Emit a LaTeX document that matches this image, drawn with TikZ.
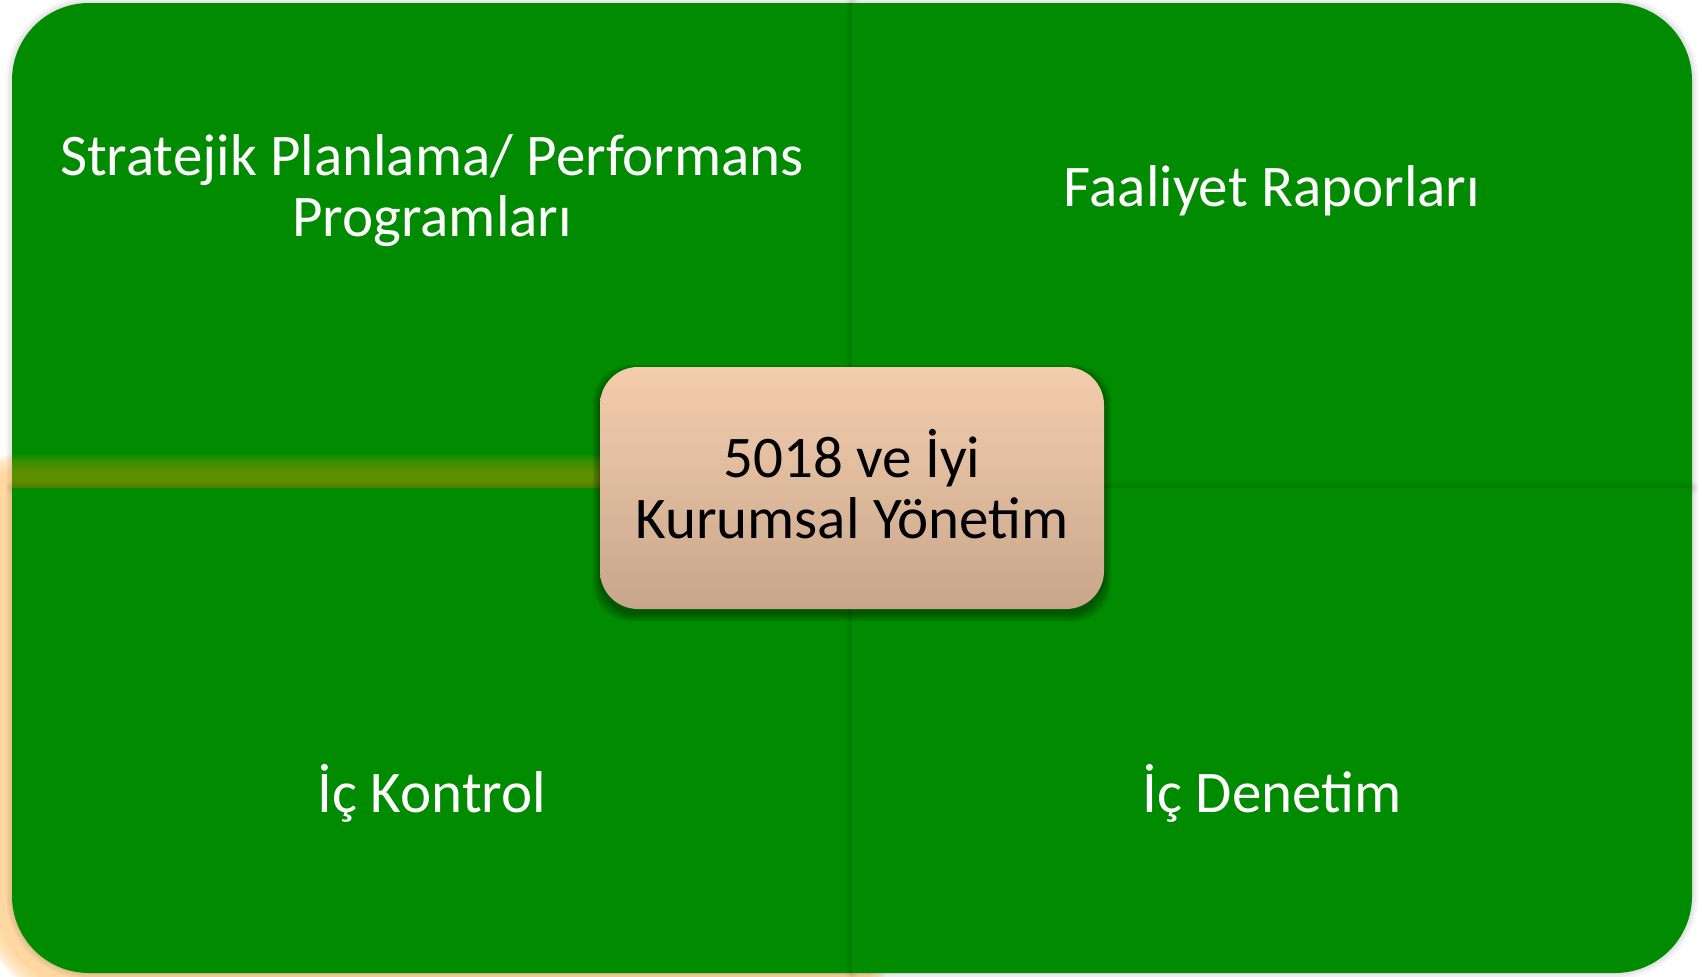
\documentclass[tikz,border=0pt]{standalone}
\usepackage{fontspec}
\setmainfont{Carlito}
\definecolor{quadgreen}{RGB}{0,139,0}
\definecolor{glowor}{RGB}{255,150,0}
\definecolor{coretop}{RGB}{244,205,174}
\definecolor{corebot}{RGB}{200,166,139}
\begin{document}
\begin{tikzpicture}[x=0.5pt,y=-0.5pt,
  quad/.style={fill=quadgreen},
  qshadow/.style={draw=black,opacity=0.035,line join=round},
  qtext/.style={text=white,font=\fontsize{29.5}{30.5}\selectfont,align=center,inner sep=0pt,anchor=base},
  corebox/.style={rounded corners=19pt,minimum width=252pt,minimum height=121pt,
    top color=coretop,bottom color=corebot,inner sep=0pt},
  coretext/.style={text=black,font=\fontsize{29.5}{30.5}\selectfont,align=center,inner sep=0pt,anchor=base}]
\useasboundingbox (0,0) rectangle (1702,976);
\fill[white] (0,0) rectangle (1702,976);

% quadrant outlines
\def\pathTL{(852,488) -- (12,488) -- (12,80) arc[start angle=180,end angle=270,radius=77] -- (852,3) -- cycle}
\def\pathTR{(852,3) -- (1615,3) arc[start angle=270,end angle=360,radius=77] -- (1692,488) -- (852,488) -- cycle}
\def\pathBL{(852,488) -- (852,973) -- (89,973) arc[start angle=90,end angle=180,radius=77] -- (12,488) -- cycle}
\def\pathBR{(852,488) -- (1692,488) -- (1692,896) arc[start angle=0,end angle=90,radius=77] -- (852,973) -- cycle}

% top left
\foreach \w in {6,4,2} \draw[qshadow,line width=\w pt] \pathTL;
\fill[quad] \pathTL;
% top right
\foreach \w in {6,4,2} \draw[qshadow,line width=\w pt] \pathTR;
\fill[quad] \pathTR;
% orange glow around the bottom left quadrant
\begin{scope}[transparency group,opacity=0.37]
  \foreach \w in {33,31,29,27,25,23,21,19}
    \draw[glowor,opacity=0.22,line width=\w pt,line join=round] \pathBL;
  \draw[glowor,line width=18pt,line join=round] \pathBL;
\end{scope}
% bottom left
\foreach \w in {6,4,2} \draw[qshadow,line width=\w pt] \pathBL;
\fill[quad] \pathBL;
% bottom right
\foreach \w in {6,4,2} \draw[qshadow,line width=\w pt] \pathBR;
\fill[quad] \pathBR;

% quadrant captions
\node[qtext] (plan) at (432,236) {Stratejik Planlama/ Performans\\Programları};
\node[qtext] (rapor) at (1272,206) {Faaliyet Raporları};
\node[qtext] (kontrol) at (432,812) {İç Kontrol};
\node[qtext] (denetim) at (1272,812) {İç Denetim};

% central box with its soft shadow
\foreach \k in {1,3,5,7}
  \fill[black,opacity=0.1,rounded corners=19pt] (600-\k,372-\k) rectangle (1104+\k,614+\k);
\node[corebox] (core) at (852,488) {};
\node[coretext] (coretxt) at (852,538) {5018 ve İyi\\Kurumsal Yönetim};
\end{tikzpicture}
\end{document}
